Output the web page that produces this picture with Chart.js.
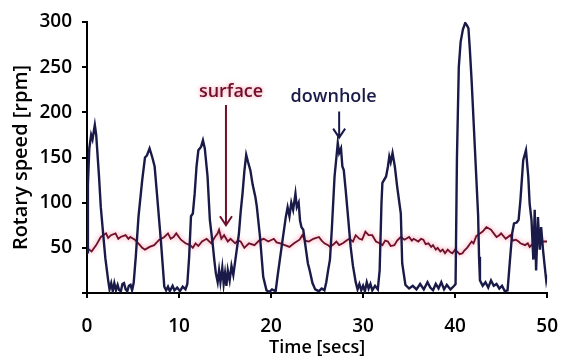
<!DOCTYPE html>
<html>
<head>
<meta charset="utf-8">
<script src="https://cdn.jsdelivr.net/npm/chart.js@4/dist/chart.umd.min.js"></script>
<style>
html,body{margin:0;padding:0;background:#fff;}
canvas{display:block;}
</style>
</head>
<body>
<canvas id="c" width="575" height="359"></canvas>
<script>
// ---- data ----
const xTicks = [0, 10, 20, 30, 40, 50];
const yTicks = [50, 100, 150, 200, 250, 300];

const downholeTime = [0,0.1,0.25,0.45,0.6,0.85,1.0,1.3,1.5,1.75,2.0,2.3,2.45,2.63,2.8,2.97,3.15,3.33,3.5,3.68,3.85,4.02,4.2,4.38,4.55,4.73,4.9,5.07,5.3,5.6,6.0,6.3,6.5,6.8,7.1,7.35,7.6,8.05,8.4,8.6,8.8,9.0,9.3,9.5,9.8,10.1,10.4,10.7,10.9,11.1,11.3,11.5,11.7,11.9,12.1,12.4,12.6,12.8,13.1,13.35,13.65,13.85,14.0,14.2,14.35,14.5,14.7,14.85,15.0,15.15,15.3,15.5,15.7,15.9,16.1,16.3,16.5,16.7,16.9,17.1,17.3,17.5,17.75,18.0,18.3,18.45,18.8,19.15,19.5,19.8,20.1,20.5,20.7,21.2,21.6,21.8,22.0,22.2,22.4,22.65,22.8,23.0,23.15,23.3,23.5,23.7,24.0,24.2,24.5,24.8,25.2,25.5,25.8,26.0,26.2,26.4,26.6,26.9,27.1,27.25,27.4,27.6,27.75,27.9,28.1,28.3,28.65,28.9,29.2,29.4,29.6,29.8,30.0,30.2,30.4,30.6,30.8,31.0,31.3,31.6,31.8,32.0,32.1,32.5,32.7,32.85,33.0,33.2,33.45,33.7,34.1,34.25,34.6,35.0,35.4,35.8,36.2,36.6,37.0,37.3,37.6,37.9,38.2,38.5,38.8,39.1,39.5,39.9,40.05,40.2,40.4,40.6,40.85,41.1,41.3,41.45,41.6,41.8,42.15,42.5,42.6,42.7,43.0,43.3,43.6,43.9,44.2,44.5,44.8,45.1,45.4,45.7,45.95,46.2,46.4,46.7,46.9,47.1,47.4,47.7,47.95,48.1,48.3,48.5,48.65,48.8,49.0,49.2,49.35,49.55,49.7,49.9,50.0];
const downholeRpm = [45,120,160,175,170,186,175,130,95,66,38,14,4,11,2,11,3,9,3,2,10,11,4,2,8,9,3,11,40,85,125,150,152,160,150,140,110,55,7,3,7,2,8,3,6,2,7,4,10,40,85,88,110,140,158,162,169,160,129,81,55,35,22,12,25,12,28,10,22,8,25,14,30,20,35,50,65,90,110,135,153,145,136,120,106,96,62,18,3,1,4,2,18,55,84,95,85,100,92,110,95,100,80,73,70,55,33,25,11,4,2,5,3,12,25,37,70,129,150,166,155,160,140,136,115,92,51,30,12,4,10,3,8,2,12,5,10,3,8,4,25,100,122,129,140,151,145,155,140,118,88,33,9,5,8,4,10,4,12,6,3,10,5,12,4,9,4,8,10,150,250,278,292,299,296,293,270,234,160,86,40,14,8,12,6,14,8,10,5,8,2,3,35,66,77,78,81,103,147,158,129,99,81,37,92,25,84,48,73,48,33,14,20];

const surfaceTime = [0,0.5,1.0,1.5,2.07,2.3,2.6,3.1,3.4,3.65,4.2,4.5,4.7,5.2,5.75,6.0,6.3,6.8,7.3,7.85,8.1,8.4,8.8,9.1,9.4,9.7,10.2,10.7,11.2,11.5,11.8,12.1,12.5,13.0,13.5,13.9,14.2,14.35,14.6,14.9,15.3,15.6,16.1,16.4,16.7,17.1,17.6,18.2,18.7,19.2,19.7,20.3,20.6,21.0,21.5,22.0,22.5,23.1,23.4,23.7,24.1,24.6,25.2,25.5,25.8,26.2,26.4,26.8,27.1,27.4,27.8,28.2,28.5,28.9,29.2,29.6,29.9,30.25,30.6,31.0,31.4,31.8,32.1,32.4,32.7,33.0,33.4,33.7,34.1,34.5,35.0,35.3,35.5,36.0,36.3,36.55,36.8,37.1,37.4,37.6,37.9,38.1,38.4,38.65,38.9,39.2,39.5,39.7,40.0,40.2,40.5,40.8,41.0,41.3,41.8,42.0,42.3,42.7,43.0,43.4,43.9,44.2,44.5,44.8,45.0,45.5,46.0,46.3,46.6,46.9,47.1,47.6,47.9,48.1,48.5,48.8,49.2,49.5,50.0];
const surfaceRpm = [50,46,53,62,66,61,64,66,60,62,64,60,62,59,53,50,48,51,53,59,60,62,66,60,62,66,59,55,53,50,55,52,57,60,55,62,66,70,60,64,57,60,55,58,57,50,55,53,58,60,57,60,56,55,53,51,55,59,64,58,57,60,62,58,55,53,51,54,57,53,55,58,60,57,64,60,59,68,64,64,57,55,53,58,57,52,53,58,62,59,62,58,60,57,60,59,54,55,51,53,48,50,46,48,44,48,45,44,48,46,43,44,47,50,57,55,63,66,68,73,70,66,62,64,66,60,64,58,59,57,55,53,55,51,55,57,55,57,57];

const seriesNames = ['downhole', 'surface'];

function toPoints(t, v) { return t.map((x, i) => ({x: x, y: v[i]})); }

const FONT = "'Open Sans', 'Noto Sans', sans-serif";
const NAVY = '#1a1a48';
const MAROON = '#6e1029';

// labels with arrows, placed in data coordinates via the chart's scales
const notes = [
  {text: 'surface', color: MAROON, glow: 'rgba(240,110,140,0.75)', tx: 15.65, ty: 223, ax: 15.1, ay0: 208, ay1: 75},
  {text: 'downhole', color: NAVY, glow: null, tx: 26.8, ty: 217, ax: 27.4, ay0: 201, ay1: 172}
];

const glowPlugin = {
  id: 'glow',
  beforeDatasetDraw(chart, args) {
    if (args.index === 1) {
      const ctx = chart.ctx;
      ctx.save();
      ctx.shadowColor = 'rgba(240,100,130,0.8)';
      ctx.shadowBlur = 5;
    }
  },
  afterDatasetDraw(chart, args) {
    if (args.index === 1) chart.ctx.restore();
  }
};

const notePlugin = {
  id: 'notes',
  afterDatasetsDraw(chart) {
    const ctx = chart.ctx, xs = chart.scales.x, ys = chart.scales.y;
    notes.forEach(n => {
      ctx.save();
      ctx.font = '600 18px ' + FONT;
      ctx.textAlign = 'center';
      ctx.textBaseline = 'middle';
      if (n.glow) { ctx.shadowColor = n.glow; ctx.shadowBlur = 4; }
      ctx.fillStyle = n.color;
      ctx.fillText(n.text, xs.getPixelForValue(n.tx), ys.getPixelForValue(n.ty));
      ctx.shadowBlur = 0;
      const x = xs.getPixelForValue(n.ax);
      const y0 = ys.getPixelForValue(n.ay0), y1 = ys.getPixelForValue(n.ay1);
      ctx.strokeStyle = n.color;
      ctx.lineWidth = 2;
      ctx.beginPath();
      ctx.moveTo(x, y0); ctx.lineTo(x, y1);
      ctx.moveTo(x - 6, y1 - 9); ctx.lineTo(x, y1); ctx.lineTo(x + 6, y1 - 9);
      ctx.stroke();
      ctx.restore();
    });
  }
};

new Chart(document.getElementById('c'), {
  type: 'line',
  data: {
    datasets: [
      {label: seriesNames[0], data: toPoints(downholeTime, downholeRpm), borderColor: NAVY, borderWidth: 2.4, pointRadius: 0, tension: 0, fill: false},
      {label: seriesNames[1], data: toPoints(surfaceTime, surfaceRpm), borderColor: MAROON, borderWidth: 1.8, pointRadius: 0, tension: 0, fill: false}
    ]
  },
  options: {
    responsive: false,
    animation: false,
    layout: {padding: {top: 22, right: 12, left: 0, bottom: 0}},
    plugins: {legend: {display: false}, tooltip: {enabled: false}},
    scales: {
      x: {
        type: 'linear', min: 0, max: 50,
        afterBuildTicks: s => { s.ticks = xTicks.map(v => ({value: v})); },
        afterFit: s => { s.height = 66; },
        ticks: {color: '#000', font: {family: FONT, size: 19, weight: '600'}, padding: 17, maxRotation: 0},
        grid: {drawOnChartArea: false, drawTicks: true, tickLength: 5, color: '#000', lineWidth: 2},
        border: {color: '#000', width: 2},
        title: {display: true, text: 'Time [secs]', color: '#000', font: {family: FONT, size: 18, weight: '600'}, padding: {top: 0, bottom: 0}}
      },
      y: {
        type: 'linear', min: 0, max: 300,
        afterBuildTicks: s => { s.ticks = [0].concat(yTicks).map(v => ({value: v})); },
        afterFit: s => { s.width = 87; },
        ticks: {color: '#000', font: {family: FONT, size: 19, weight: '600'}, padding: 10, callback: v => (v === 0 ? '' : v)},
        grid: {drawOnChartArea: false, drawTicks: true, tickLength: 5, color: '#000', lineWidth: 2},
        border: {color: '#000', width: 2},
        title: {display: true, text: 'Rotary speed [rpm]', color: '#000', font: {family: FONT, size: 20, weight: '600'}, padding: {top: 9, bottom: 0}}
      }
    }
  },
  plugins: [glowPlugin, notePlugin]
});
</script>
</body>
</html>
